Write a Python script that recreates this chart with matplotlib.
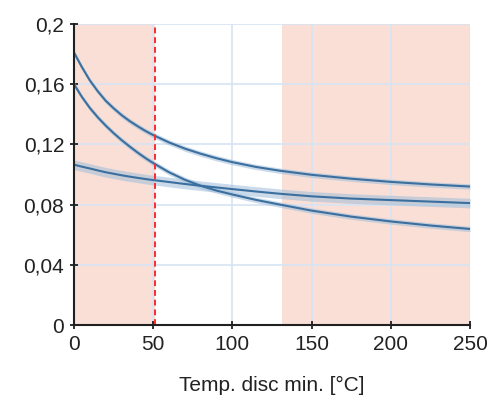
import matplotlib
matplotlib.use("Agg")
import matplotlib.pyplot as plt
import numpy as np

plt.rcParams['font.family'] = ['Liberation Sans', 'DejaVu Sans']

# Data
temp = [0, 5, 10, 15, 20, 25, 30, 35, 40, 45, 50, 60, 70, 80, 90, 100,
        115, 130, 150, 175, 200, 225, 250]
curve_a = [0.181, 0.1713, 0.1625, 0.1553, 0.1490, 0.1440, 0.1395, 0.1356, 0.1322, 0.1290, 0.1262,
           0.1213, 0.1172, 0.1138, 0.1108, 0.1082, 0.1050, 0.1025, 0.0998, 0.0972, 0.0951,
           0.0934, 0.0920]
curve_b = [0.160, 0.1515, 0.1442, 0.1380, 0.1325, 0.1275, 0.1229, 0.1187, 0.1147, 0.1110, 0.1076,
           0.1015, 0.0965, 0.0925, 0.0893, 0.0867, 0.0831, 0.0800, 0.0760, 0.0720, 0.0688,
           0.0661, 0.0638]
curve_c = [0.1065, 0.1052, 0.1040, 0.1027, 0.1015, 0.1005, 0.0995, 0.0986, 0.0978, 0.0970,
           0.0963, 0.0950, 0.0937, 0.0925, 0.0914, 0.0903, 0.0887, 0.0872, 0.0855, 0.0840,
           0.0830, 0.0820, 0.0810]
band_a = 0.0018
band_b = 0.0018
band_c = 0.0032

shade_regions = [(0, 51), (131, 250)]
vline_x = 51

xticks = [0, 50, 100, 150, 200, 250]
yticks = [0, 0.04, 0.08, 0.12, 0.16, 0.2]
ytick_labels = ['0', '0,04', '0,08', '0,12', '0,16', '0,2']

fig = plt.figure(figsize=(4.88, 4.11), dpi=100)
ax = fig.add_axes([74/488, 1-325/411, (470-74)/488, (325-24)/411])

for a, b in shade_regions:
    ax.axvspan(a, b, color='#f9dfd6', zorder=0.1, lw=0)

ax.set_axisbelow(True)
ax.grid(True, color='#d7e4f3', lw=1.2, zorder=0.5)

line_col = '#3b6f9f'
band_col = '#9fbdd9'
for ys, bw in [(curve_a, band_a), (curve_b, band_b), (curve_c, band_c)]:
    ys = np.array(ys)
    ax.fill_between(temp, ys - bw, ys + bw, color=band_col, alpha=0.55, lw=0, zorder=2)
    ax.plot(temp, ys, color=line_col, lw=1.5, zorder=3)

ax.axvline(vline_x, color='#ff2a2a', ls=(0, (3, 2)), lw=1.4, zorder=4)

ax.set_xlim(0, 250)
ax.set_ylim(0, 0.2)
ax.set_xticks(xticks)
ax.set_yticks(yticks)
ax.set_yticklabels(ytick_labels)

for s in ['top', 'right']:
    ax.spines[s].set_visible(False)
for s in ['left', 'bottom']:
    ax.spines[s].set_color('#202020')
    ax.spines[s].set_linewidth(1.5)
    ax.spines[s].set_zorder(5)

ax.tick_params(direction='inout', length=6, width=1.3, color='#202020',
               labelsize=15, pad=4, labelcolor='#222222')
ax.set_xlabel('Temp. disc min. [°C]', fontsize=15, color='#222222', labelpad=16)

fig.savefig('out.png', dpi=100)
